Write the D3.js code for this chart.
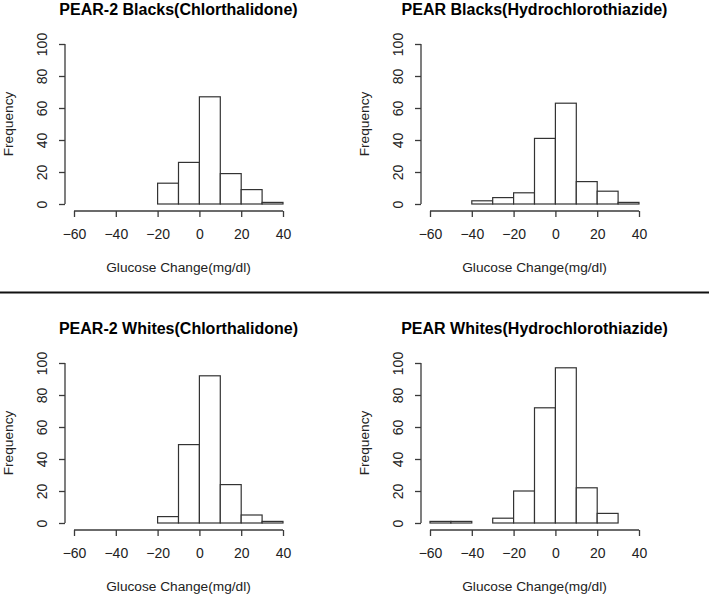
<!DOCTYPE html>
<html>
<head>
<meta charset="utf-8">
<script src="https://cdn.jsdelivr.net/npm/d3@7"></script>
<style>
  body { margin: 0; background: #fff; }
  svg { display: block; }
  text { font-family: "Liberation Sans", Arial, sans-serif; fill: #222; }
</style>
</head>
<body>
<svg width="709" height="594"></svg>
<script>
const titles = [
  'PEAR-2 Blacks(Chlorthalidone)',
  'PEAR Blacks(Hydrochlorothiazide)',
  'PEAR-2 Whites(Chlorthalidone)',
  'PEAR Whites(Hydrochlorothiazide)'
];
// left edge of each 10 mg/dl bin
const binStarts1 = [-20, -10, 0, 10, 20, 30];
const counts1 = [13, 26, 67, 19, 9, 1];
const binStarts2 = [-40, -30, -20, -10, 0, 10, 20, 30];
const counts2 = [2, 4, 7, 41, 63, 14, 8, 1];
const binStarts3 = [-20, -10, 0, 10, 20, 30];
const counts3 = [4, 49, 92, 24, 5, 1];
const binStarts4 = [-60, -50, -40, -30, -20, -10, 0, 10, 20];
const counts4 = [1, 1, 0, 3, 20, 72, 97, 22, 6];
const binWidth = 10;
const xTicks = [-60, -40, -20, 0, 20, 40];
const yTicks = [0, 20, 40, 60, 80, 100];
const xLabel = 'Glucose Change(mg/dl)';
const yLabel = 'Frequency';

const panels = [
  {ox: 0, oy: 0, starts: binStarts1, counts: counts1},
  {ox: 356, oy: 0, starts: binStarts2, counts: counts2},
  {ox: 0, oy: 319, starts: binStarts3, counts: counts3},
  {ox: 356, oy: 319, starts: binStarts4, counts: counts4}
];

const svg = d3.select('svg');
const axisCol = '#3a3a3a';

panels.forEach((p, i) => {
  const g = svg.append('g').attr('transform', `translate(${p.ox},${p.oy})`);
  const x = d3.scaleLinear().domain([-60, 40]).range([74, 283]);
  const y = d3.scaleLinear().domain([0, 100]).range([204, 44]);

  g.append('text')
    .attr('x', (x(-60) + x(40)) / 2)
    .attr('y', 15)
    .attr('text-anchor', 'middle')
    .style('font-size', '16px')
    .style('font-weight', 'bold')
    .style('fill', '#000')
    .text(titles[i]);

  g.selectAll('rect.bar')
    .data(p.starts.map((s, k) => ({s, c: p.counts[k]})))
    .enter()
    .append('rect')
    .attr('class', 'bar')
    .attr('x', d => x(d.s))
    .attr('width', d => x(d.s + binWidth) - x(d.s))
    .attr('y', d => y(d.c))
    .attr('height', d => y(0) - y(d.c))
    .attr('fill', '#fff')
    .attr('stroke', '#333')
    .attr('stroke-width', 1.2);

  const xAxis = g.append('g')
    .attr('transform', 'translate(0,211)')
    .call(d3.axisBottom(x).tickValues(xTicks).tickSize(6).tickPadding(12).tickFormat(d3.format('d')));
  const yAxis = g.append('g')
    .attr('transform', 'translate(65,0)')
    .call(d3.axisLeft(y).tickValues(yTicks).tickSize(6).tickFormat(d3.format('d')));

  [xAxis, yAxis].forEach(a => {
    a.select('.domain').attr('stroke', axisCol).attr('stroke-width', 1.3);
    a.selectAll('.tick line').attr('stroke', axisCol).attr('stroke-width', 1.3);
    a.selectAll('.tick text')
      .style('font-family', '"Liberation Sans", Arial, sans-serif')
      .style('font-size', '14px')
      .style('fill', '#222');
  });
  yAxis.selectAll('.tick text')
    .attr('x', 0).attr('dy', 0)
    .attr('text-anchor', 'middle')
    .attr('transform', 'translate(-23,0) rotate(-90)')
    .attr('dominant-baseline', 'central');
  // plain axis lines without outer ticks
  xAxis.select('.domain').attr('d', `M${x(-60)},0H${x(40)}`);
  yAxis.select('.domain').attr('d', `M0,${y(0)}V${y(100)}`);

  g.append('text')
    .attr('x', (x(-60) + x(40)) / 2)
    .attr('y', 272)
    .attr('text-anchor', 'middle')
    .style('font-size', '13.7px')
    .text(xLabel);

  g.append('text')
    .attr('transform', `translate(13,${(y(0) + y(100)) / 2}) rotate(-90)`)
    .attr('text-anchor', 'middle')
    .style('font-size', '13.7px')
    .text(yLabel);
});

svg.append('line')
  .attr('x1', 0).attr('x2', 709)
  .attr('y1', 292.5).attr('y2', 292.5)
  .attr('stroke', '#111')
  .attr('stroke-width', 2.2);
</script>
</body>
</html>
